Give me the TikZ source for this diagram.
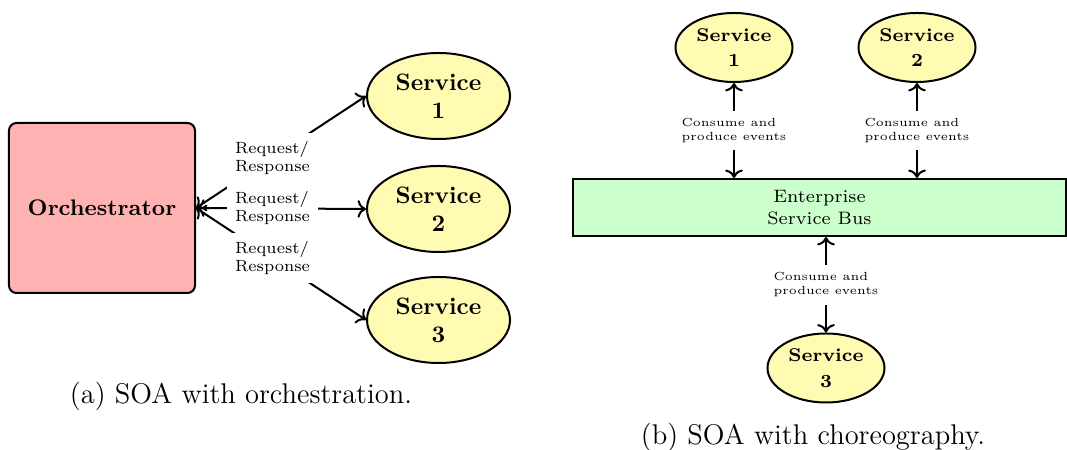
\documentclass[tikz,border=0pt]{standalone}
\usepackage{tikz}
\usetikzlibrary{arrows.meta,shapes.geometric}

\begin{document}
\begin{tikzpicture}[x=0.4pt,y=-0.4pt,
  orch/.style={draw,thick,rounded corners=3pt,fill=red!30,minimum width=74.4pt,
               minimum height=68pt,font=\bfseries\fontsize{9}{11}\selectfont},
  srv/.style={ellipse,draw,thick,fill=yellow!30,align=center,inner sep=0pt,
              minimum width=57.2pt,minimum height=34.4pt,font=\bfseries\fontsize{9.5}{11.2}\selectfont},
  srvs/.style={srv,minimum width=46.8pt,minimum height=27.6pt,font=\bfseries\fontsize{7.4}{10.2}\selectfont},
  bus/.style={draw,thick,fill=green!20,align=center,minimum width=197.2pt,minimum height=22.8pt,
              font=\fontsize{7.2}{8.8}\selectfont},
  req/.style={fill=white,align=left,font=\fontsize{6.5}{7.2}\selectfont},
  evt/.style={fill=white,align=left,font=\fontsize{4.7}{5.6}\selectfont},
  subcap/.style={font=\fontsize{11.4}{13}\selectfont}]
  \useasboundingbox (0,0) rectangle (1067,450);
  % orchestration
  \node[orch] (orch) at (102,208) {Orchestrator};
  \node[srv] (s1) at (438.5,96) {Service\\1};
  \node[srv] (s2) at (438.5,209) {Service\\2};
  \node[srv] (s3) at (438.5,320) {Service\\3};
  \foreach \i in {1,2,3}
    \draw[<->,thick] (orch.east) -- node[req,pos=0.45] {Request/\\Response} (s\i.west);
  \node[subcap] (capa) at (241,396) {(a) SOA with orchestration.};
  % choreography
  \node[bus] (esb) at (819.5,207.5) {Enterprise\\Service Bus};
  \node[srvs] (r1) at (734,47.5) {Service\\1};
  \node[srvs] (r2) at (917,47.5) {Service\\2};
  \node[srvs] (r3) at (826,368) {Service\\3};
  \foreach \r in {r1,r2}
    \draw[<->,thick] (\r.south) -- node[evt,inner sep=3pt] {Consume and\\produce events} (\r.south |- esb.north);
  \draw[<->,thick] (r3.north) -- node[evt,inner sep=3pt] {Consume and\\produce events} (r3.north |- esb.south);
  \node[subcap] (capb) at (813,437) {(b) SOA with choreography.};
\end{tikzpicture}
\end{document}
